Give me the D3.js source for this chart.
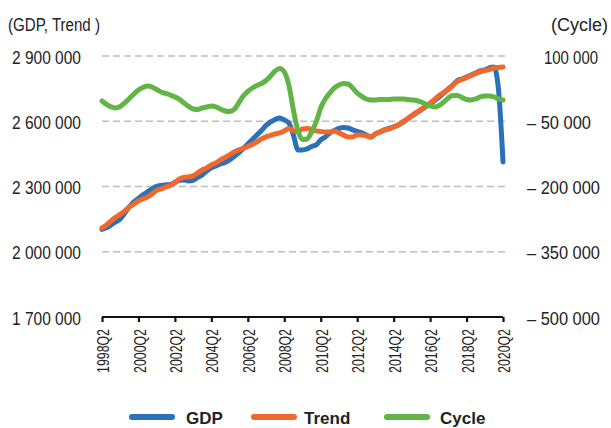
<!DOCTYPE html>
<html><head><meta charset="utf-8">
<script src="https://cdn.jsdelivr.net/npm/d3@7/dist/d3.min.js"></script>
<style>
html,body{margin:0;padding:0;background:#fff;}
svg{display:block;}
text{font-family:"Liberation Sans",Arial,sans-serif;fill:#222;}
</style></head>
<body>
<svg id="chart" width="611" height="428"></svg>
<script>
// ---------- data ----------
const startYear = 1998, startQuarter = 2, nQuarters = 89;
const quarters = [];
for (let k = 0; k < nQuarters; k++) {
  const q = (startQuarter - 1 + k) % 4 + 1;
  const y = startYear + Math.floor((startQuarter - 1 + k) / 4);
  quarters.push(y + "Q" + q);
}
const gdp = [
 2102900,2109800,2123600,2137400,2151200,2178700,2206300,2229300,2245400,2261400,
 2275200,2289000,2300500,2305100,2307400,2309700,2318900,2328000,2330300,2325800,
 2328000,2341800,2353300,2371700,2385500,2394700,2403800,2410700,2422200,2438300,
 2454400,2475100,2495700,2516400,2537100,2557700,2580700,2596800,2608300,2615200,
 2606000,2592200,2537100,2468200,2468200,2472800,2484200,2491100,2514100,2527900,
 2546300,2557700,2566900,2571500,2569200,2560000,2553200,2546300,2537100,2527900,
 2541700,2550900,2560000,2566900,2573800,2583000,2594500,2610600,2624400,2638100,
 2651900,2665700,2679500,2695600,2711600,2730000,2748400,2766800,2787400,2794300,
 2803500,2812700,2821900,2831100,2835700,2844900,2849500,2748400,2413000];
const trend = [
 2109800,2123600,2142000,2158100,2171900,2187900,2206300,2220100,2233900,2243100,
 2252200,2266000,2282100,2289000,2298200,2305100,2318900,2334900,2341800,2344100,
 2348700,2362500,2376300,2385500,2399300,2408400,2422200,2433700,2445200,2459000,
 2468200,2475100,2484200,2493400,2504900,2518700,2527900,2534800,2541700,2546300,
 2555500,2566900,2555500,2553200,2564600,2566900,2562300,2555500,2553200,2550900,
 2550900,2555500,2546300,2537100,2527900,2527900,2537100,2537100,2532500,2527900,
 2541700,2550900,2560000,2564600,2573800,2583000,2596800,2610600,2626700,2640400,
 2654200,2668000,2684100,2700200,2718500,2732300,2746100,2764500,2782900,2792000,
 2801200,2810400,2819600,2826500,2833400,2838000,2844900,2847200,2849500];
const cycle = [
 -3400,-11400,-17100,-19400,-16000,-8000,2400,12700,21900,27600,
 31100,28800,23000,17300,13900,10400,5800,100,-8000,-16000,
 -21700,-22900,-19400,-17100,-14900,-17100,-21700,-26300,-27500,-22900,
 -8000,8100,18500,26500,32200,36800,43700,54100,65500,71300,
 63200,33400,-24000,-72300,-91800,-90700,-74600,-51600,-19400,1200,
 15000,26500,33400,36800,35700,26500,15000,7000,1200,-1100,
 -1100,100,100,100,1200,1200,1200,100,-1100,-2200,
 -5700,-10300,-14900,-17100,-13700,-5700,3500,9300,9300,4700,
 100,-1100,1200,5800,8100,8100,5800,1200,-1100];
const leftTicks = [1700000, 2000000, 2300000, 2600000, 2900000];
const leftTickLabels = ["1 700 000", "2 000 000", "2 300 000", "2 600 000", "2 900 000"];
const rightTicks = [-500000, -350000, -200000, -50000, 100000];
const rightTickLabels = ["\u2013 500 000", "\u2013 350 000", "\u2013 200 000", "\u2013 50 000", "100 000"];
const xTickLabels = ["1998Q2","2000Q2","2002Q2","2004Q2","2006Q2","2008Q2","2010Q2","2012Q2","2014Q2","2016Q2","2018Q2","2020Q2"];
const seriesNames = ["GDP", "Trend", "Cycle"];
const colors = {GDP: "#2c70b8", Trend: "#f0682b", Cycle: "#62b446"};

// ---------- helpers ----------
function fit(sel, wFn) {
  sel.each(function(d, i) {
    const w = typeof wFn === "function" ? wFn(d, i) : wFn;
    d3.select(this).attr("textLength", w).attr("lengthAdjust", "spacingAndGlyphs");
  });
}

// ---------- layout ----------
const svg = d3.select("#chart");
const L = 102, R = 503, T = 56, B = 317;
const x = d3.scalePoint().domain(quarters).range([L, R]);
const yL = d3.scaleLinear().domain([1700000, 2900000]).range([B, T]);
const yR = d3.scaleLinear().domain([-500000, 100000]).range([B, T]);

// gridlines
svg.append("g").selectAll("line").data(leftTicks.slice(1)).join("line")
  .attr("x1", L).attr("x2", R + 2)
  .attr("y1", d => yL(d)).attr("y2", d => yL(d))
  .attr("stroke", "#bdbdbd").attr("stroke-width", 1.3).attr("stroke-dasharray", "7,4");

// left axis labels
const gl = svg.append("g").attr("transform", `translate(${L},0)`)
  .call(d3.axisLeft(yL).tickValues(leftTicks).tickSize(0).tickPadding(21)
    .tickFormat((d, i) => leftTickLabels[i]));
gl.select(".domain").remove();
gl.selectAll("text").style("font-size", "18px").attr("fill", "#222").attr("dy", "0.4em")
  .style("font-family", '"Liberation Sans",Arial,sans-serif');
fit(gl.selectAll("text"), 69);

// right axis labels
const gr = svg.append("g").attr("transform", `translate(${R},0)`)
  .call(d3.axisRight(yR).tickValues(rightTicks).tickSize(0)
    .tickFormat((d, i) => rightTickLabels[i]));
gr.select(".domain").remove();
gr.selectAll("text").style("font-size", "18px").attr("fill", "#222").attr("dy", "0.4em")
  .attr("x", d => d < 0 ? 24 : 41)
  .style("font-family", '"Liberation Sans",Arial,sans-serif');
fit(gr.selectAll("text"), d => d >= 0 ? 54 : (d > -100000 ? 64 : 73));

// x axis
const gx = svg.append("g").attr("transform", `translate(0,${B})`)
  .call(d3.axisBottom(x).tickValues(xTickLabels).tickSize(5).tickSizeOuter(0).tickPadding(6));
gx.select(".domain").attr("stroke", "#111").attr("stroke-width", 2.2)
  .attr("d", `M${L},0H${R}`);
gx.selectAll(".tick line").attr("stroke", "#111").attr("stroke-width", 2.2);
gx.selectAll(".tick text")
  .attr("transform", "rotate(-90)")
  .attr("x", -12).attr("y", 1).attr("dy", "0.35em")
  .style("text-anchor", "end")
  .style("font-size", "16px").attr("fill", "#222")
  .style("font-family", '"Liberation Sans",Arial,sans-serif');
fit(gx.selectAll(".tick text"), 44);

// axis titles
const t1 = svg.append("text").attr("x", 8).attr("y", 31).text("(GDP, Trend )")
  .style("font-size", "18px");
fit(t1, 92);
svg.append("text").attr("x", 608).attr("y", 31).attr("text-anchor", "end").text("(Cycle)")
  .style("font-size", "18px");

// lines
const mk = (scale) => d3.line().x((d, i) => x(quarters[i])).y(d => scale(d)).curve(d3.curveMonotoneX);
const plot = [
  {name: "GDP", values: gdp, scale: yL},
  {name: "Trend", values: trend, scale: yL},
  {name: "Cycle", values: cycle, scale: yR}
];
svg.append("g").selectAll("path").data(plot).join("path")
  .attr("d", d => mk(d.scale)(d.values))
  .attr("fill", "none").attr("stroke", d => colors[d.name])
  .attr("stroke-width", 5).attr("stroke-linejoin", "round").attr("stroke-linecap", "round");

// legend
const legX = [132, 254, 387];
const legTX = [186, 304, 440];
const lg = svg.append("g").selectAll("g").data(seriesNames).join("g");
lg.append("line").attr("x1", (d, i) => legX[i]).attr("x2", (d, i) => legX[i] + 40)
  .attr("y1", 417).attr("y2", 417)
  .attr("stroke", d => colors[d]).attr("stroke-width", 6).attr("stroke-linecap", "round");
lg.append("text").attr("x", (d, i) => legTX[i]).attr("y", 423.5).text(d => d)
  .style("font-size", "17px").style("font-weight", "bold");
</script>
</body></html>
